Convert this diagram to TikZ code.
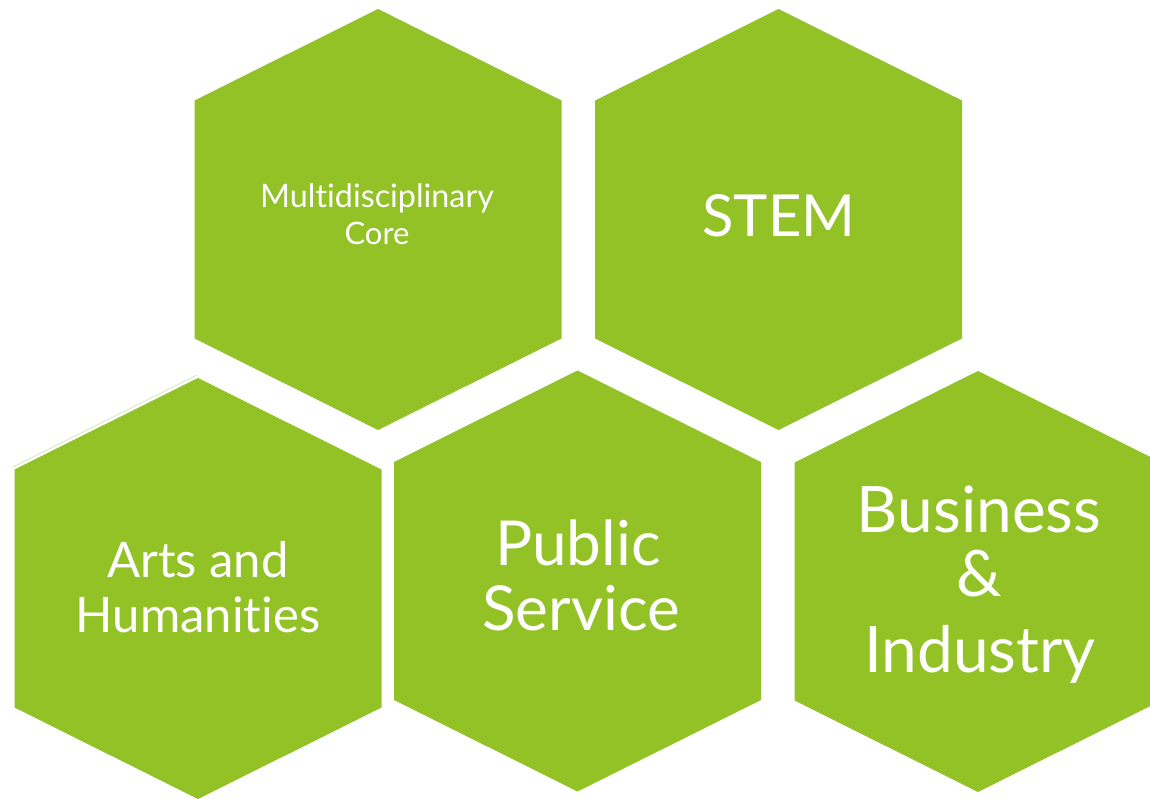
\documentclass[tikz,border=0pt]{standalone}
\usepackage{fontspec}
\setmainfont{Lato}[Ligatures={NoCommon}]
\definecolor{hexgreen}{RGB}{147,194,39}
\definecolor{hexline}{RGB}{200,225,150}
\tikzset{
  hexfill/.style={fill=hexgreen},
  hextext/.style={text=white, anchor=base, inner sep=0pt},
}
\newcommand{\hexpath}[3]{% name, center x, top y
  \coordinate (#1) at (#2,#3);
  \fill[hexfill] (#1) -- ++(183.5,91.5) -- ++(0,238) -- ++(-183.5,91.5)
     -- ++(-183.5,-91.5) -- ++(0,-238) -- cycle;}
\begin{document}
\begin{tikzpicture}[x=1pt,y=-1pt]
\useasboundingbox (0,0) rectangle (1150,799);
\clip (0,0) rectangle (1150,799);
\hexpath{core}{378}{9}
\hexpath{stem}{778.5}{9}
\hexpath{arts}{198}{378}
\hexpath{public}{577.5}{370.5}
\hexpath{business}{978}{371}
\coordinate (thinA) at (13,467);
\coordinate (thinB) at (197,375);
\draw[hexline, line width=0.6pt] (thinA) -- (thinB);
% texts
\node[hextext, font=\fontsize{32.3}{36}\selectfont] (core1) at (377,208) {Multidisciplinary};
\node[hextext, font=\fontsize{31}{36}\selectfont] (core2) at (377,245) {Core};
\node[hextext, font=\fontsize{58}{70}\selectfont] (stem1) at (779,237) {STEM};
\node[hextext, font=\fontsize{49}{56}\selectfont] (arts1) at (198,577) {Arts and};
\node[hextext, font=\fontsize{49}{56}\selectfont] (arts2) at (198,632) {Humanities};
\node[hextext, font=\fontsize{62}{66}\selectfont] (pub1) at (578,565) {Public};
\node[hextext, font=\fontsize{62}{66}\selectfont] (pub2) at (581,630) {Service};
\node[hextext, font=\fontsize{64}{76}\selectfont] (bus1) at (979,532) {Business};
\node[hextext, font=\fontsize{64}{76}\selectfont] (bus2) at (979,596) {\&};
\node[hextext, font=\fontsize{64}{76}\selectfont] (bus3) at (980,672) {Industry};
\end{tikzpicture}
\end{document}
